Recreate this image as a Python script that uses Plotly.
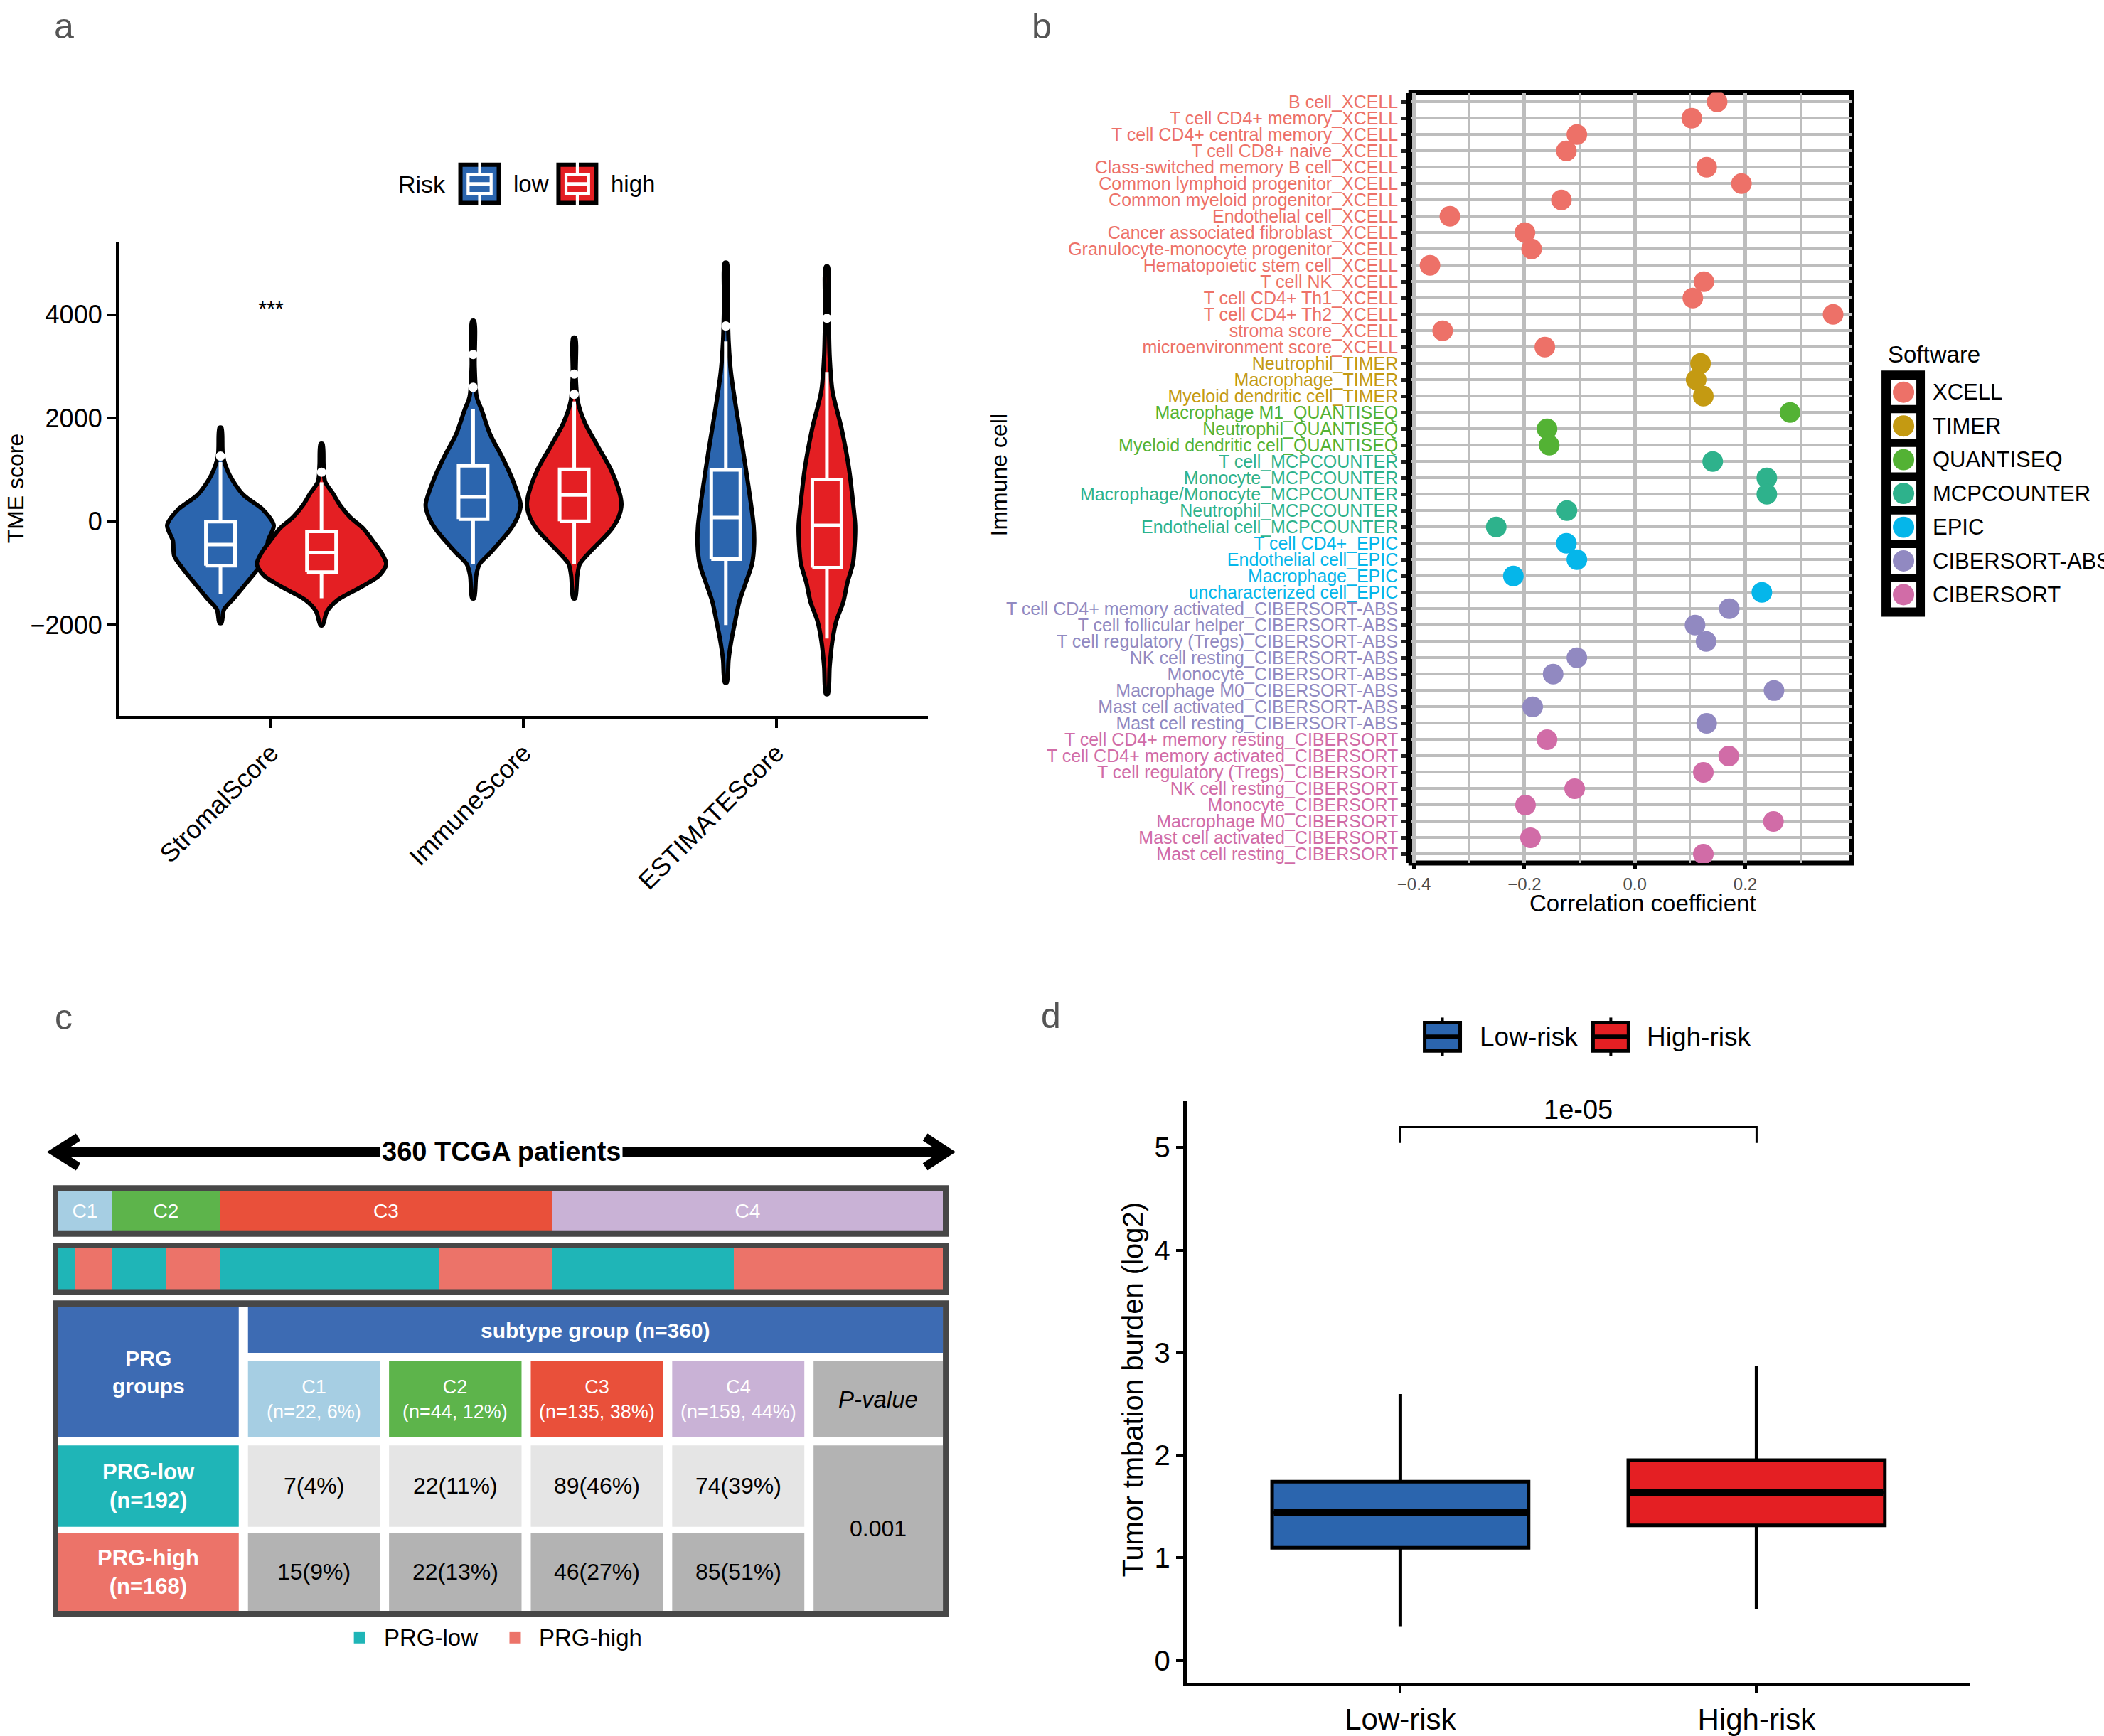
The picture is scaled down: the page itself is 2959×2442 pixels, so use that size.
import plotly.graph_objects as go

# ---------------- page geometry helpers ----------------
W, H = 2959, 2442
# small calibration of the photographed page (observed offset/scale of the render)
CAL_X0, CAL_SX, CAL_SY = 19.0, 0.9943, 0.995


def px(x):
    return ((x - CAL_X0) / CAL_SX) / W


def py(y):
    return 1 - (y / CAL_SY) / H


FONT = "Liberation Sans, Arial, sans-serif"

# ================= DATA =================
# ---- panel a: TME scores (violin + box) ----
TME_CATEGORIES = ["StromalScore", "ImmuneScore", "ESTIMATEScore"]
RISK_GROUPS = ["low", "high"]
RISK_COLORS = ["#2B65AE", "#E41F23"]
# order: Stromal-low, Stromal-high, Immune-low, Immune-high, ESTIMATE-low, ESTIMATE-high
BOX_LOWER = [-1407, -1481, -825, -821, -2001, -2262]
BOX_Q1 = [-853, -975, 49, 8, -726, -889]
BOX_MEDIAN = [-443, -600, 477, 514, 77, -74]
BOX_Q3 = [0, -190, 1079, 1010, 1001, 815]
BOX_UPPER = [1150, 760, 2180, 2323, 3483, 2893]
OUTLIERS = [[1266], [956], [2596, 3230], [2460, 2852], [3781], [3930]]
VIOLIN_Y = [
    [1815, 1266, 890, 519, 227, -74, -370, -662, -889, -1181, -1481, -1700, -1960],
    [1503, 1100, 774, 546, 320, 91, -137, -365, -593, -821, -1044, -1276, -1505, -1732, -2004],
    [3877, 3000, 2414, 2141, 1690, 1227, 774, 323, 91, -142, -361, -593, -825, -1044, -1481],
    [3553, 2800, 2323, 1913, 1457, 1006, 546, 323, 91, -137, -365, -593, -821, -1049, -1481],
    [5002, 4200, 3483, 2893, 2149, 1408, 667, -74, -443, -812, -1181, -1551, -1926, -2297, -2667, -3110],
    [4929, 4000, 3187, 2524, 1779, 1038, 296, -74, -443, -812, -1181, -1551, -1926, -2297, -2800, -3334],
]
VIOLIN_HALFWIDTH = [
    [0.004, 0.010, 0.037, 0.090, 0.169, 0.211, 0.188, 0.183, 0.152, 0.104, 0.053, 0.014, 0.004],
    [0.004, 0.008, 0.014, 0.045, 0.073, 0.112, 0.166, 0.202, 0.236, 0.256, 0.228, 0.152, 0.067, 0.022, 0.004],
    [0.004, 0.006, 0.014, 0.035, 0.067, 0.117, 0.159, 0.188, 0.176, 0.149, 0.112, 0.070, 0.025, 0.012, 0.004],
    [0.004, 0.006, 0.014, 0.042, 0.093, 0.145, 0.180, 0.187, 0.176, 0.149, 0.107, 0.061, 0.022, 0.012, 0.004],
    [0.004, 0.007, 0.011, 0.020, 0.042, 0.067, 0.090, 0.110, 0.112, 0.104, 0.079, 0.053, 0.037, 0.022, 0.011, 0.004],
    [0.004, 0.007, 0.011, 0.022, 0.059, 0.087, 0.105, 0.112, 0.110, 0.103, 0.081, 0.065, 0.037, 0.022, 0.011, 0.004],
]
SIGNIF_LABELS = ["***", "", ""]
SIGNIF_Y = 4082

# ---- panel b: immune cell correlations ----
SOFTWARE = ["XCELL", "TIMER", "QUANTISEQ", "MCPCOUNTER", "EPIC", "CIBERSORT-ABS", "CIBERSORT"]
SOFTWARE_COLORS = ["#ED7168", "#C49A12", "#53B234", "#2EB28C", "#05B6EA", "#9189C1", "#D16CA7"]
CELL_NAMES = [
    "B cell_XCELL", "T cell CD4+ memory_XCELL", "T cell CD4+ central memory_XCELL",
    "T cell CD8+ naive_XCELL", "Class-switched memory B cell_XCELL",
    "Common lymphoid progenitor_XCELL", "Common myeloid progenitor_XCELL",
    "Endothelial cell_XCELL", "Cancer associated fibroblast_XCELL",
    "Granulocyte-monocyte progenitor_XCELL", "Hematopoietic stem cell_XCELL",
    "T cell NK_XCELL", "T cell CD4+ Th1_XCELL", "T cell CD4+ Th2_XCELL",
    "stroma score_XCELL", "microenvironment score_XCELL",
    "Neutrophil_TIMER", "Macrophage_TIMER", "Myeloid dendritic cell_TIMER",
    "Macrophage M1_QUANTISEQ", "Neutrophil_QUANTISEQ", "Myeloid dendritic cell_QUANTISEQ",
    "T cell_MCPCOUNTER", "Monocyte_MCPCOUNTER", "Macrophage/Monocyte_MCPCOUNTER",
    "Neutrophil_MCPCOUNTER", "Endothelial cell_MCPCOUNTER",
    "T cell CD4+_EPIC", "Endothelial cell_EPIC", "Macrophage_EPIC", "uncharacterized cell_EPIC",
    "T cell CD4+ memory activated_CIBERSORT-ABS", "T cell follicular helper_CIBERSORT-ABS",
    "T cell regulatory (Tregs)_CIBERSORT-ABS", "NK cell resting_CIBERSORT-ABS",
    "Monocyte_CIBERSORT-ABS", "Macrophage M0_CIBERSORT-ABS",
    "Mast cell activated_CIBERSORT-ABS", "Mast cell resting_CIBERSORT-ABS",
    "T cell CD4+ memory resting_CIBERSORT", "T cell CD4+ memory activated_CIBERSORT",
    "T cell regulatory (Tregs)_CIBERSORT", "NK cell resting_CIBERSORT",
    "Monocyte_CIBERSORT", "Macrophage M0_CIBERSORT",
    "Mast cell activated_CIBERSORT", "Mast cell resting_CIBERSORT",
]
CELL_SOFTWARE = (["XCELL"] * 16 + ["TIMER"] * 3 + ["QUANTISEQ"] * 3 + ["MCPCOUNTER"] * 5
                 + ["EPIC"] * 4 + ["CIBERSORT-ABS"] * 8 + ["CIBERSORT"] * 8)
CORRELATION = [
    0.149, 0.103, -0.105, -0.124, 0.130, 0.193, -0.133, -0.335, -0.199, -0.187, -0.371,
    0.125, 0.105, 0.359, -0.348, -0.163,
    0.119, 0.111, 0.124,
    0.281, -0.159, -0.155,
    0.141, 0.239, 0.239, -0.123, -0.251,
    -0.124, -0.105, -0.220, 0.230,
    0.171, 0.109, 0.129, -0.105, -0.148, 0.252, -0.185, 0.130,
    -0.159, 0.170, 0.124, -0.109, -0.198, 0.251, -0.189, 0.124,
]

# ---- panel c: subtype vs PRG groups ----
CLUSTERS = ["C1", "C2", "C3", "C4"]
CLUSTER_COLORS = ["#A6CEE3", "#5DB44B", "#E9503A", "#C9B2D6"]
PRG_GROUPS = ["PRG-low", "PRG-high"]
PRG_COLORS = ["#1FB5B7", "#EC7369"]
PRG_LOW_COUNTS = [7, 22, 89, 74]
PRG_HIGH_COUNTS = [15, 22, 46, 85]
P_VALUE = "0.001"

# ---- panel d: tumor mutation burden ----
TMB_GROUPS = ["Low-risk", "High-risk"]
TMB_COLORS = ["#2B65AE", "#E41F23"]
TMB_LOWER = [0.334, 0.503]
TMB_Q1 = [1.098, 1.317]
TMB_MEDIAN = [1.441, 1.638]
TMB_Q3 = [1.743, 1.953]
TMB_UPPER = [2.598, 2.873]
TMB_P = "1e-05"
TMB_BRACKET_Y = [5.046, 5.20]

# ================= FIGURE =================
fig = go.Figure()
shapes = []
annotations = []


def rect(x0, y0, x1, y1, fill, lc=None, lw=0, layer="above"):
    shapes.append(dict(type="rect", xref="paper", yref="paper",
                       x0=px(x0), x1=px(x1), y0=py(y1), y1=py(y0),
                       fillcolor=fill, line=dict(width=lw, color=lc or fill), layer=layer))


def pline(x0, y0, x1, y1, color, width, layer="above"):
    shapes.append(dict(type="line", xref="paper", yref="paper",
                       x0=px(x0), x1=px(x1), y0=py(y0), y1=py(y1),
                       line=dict(color=color, width=width), layer=layer))


def text(x, y, s, size, color="black", xanchor="center", yanchor="middle", bold=False,
         italic=False, angle=0, bg=None):
    if bold:
        s = "<b>" + s + "</b>"
    if italic:
        s = "<i>" + s + "</i>"
    a = dict(x=px(x), y=py(y), xref="paper", yref="paper", text=s, showarrow=False,
             xanchor=xanchor, yanchor=yanchor, textangle=angle,
             font=dict(family=FONT, size=size, color=color))
    if bg:
        a["bgcolor"] = bg
        a["borderpad"] = 2
    annotations.append(a)


# ---------- panel a ----------
DODGE = 0.2
BOX_HALF = 0.0576
centers = []
for ci, cat in enumerate(TME_CATEGORIES):
    for gi, grp in enumerate(RISK_GROUPS):
        centers.append((ci + 1) + (-DODGE if gi == 0 else DODGE))

for k, c in enumerate(centers):
    gi = k % 2
    ys = VIOLIN_Y[k]
    hw = VIOLIN_HALFWIDTH[k]
    xs = [c + h for h in hw] + [c - h for h in reversed(hw)] + [c + hw[0]]
    yy = list(ys) + list(reversed(ys)) + [ys[0]]
    fig.add_trace(go.Scatter(x=xs, y=yy, mode="lines", fill="toself",
                             fillcolor=RISK_COLORS[gi],
                             line=dict(color="black", width=6, shape="spline", smoothing=0.8),
                             xaxis="x", yaxis="y", hoverinfo="skip", showlegend=False))

for k, c in enumerate(centers):
    l, r = c - BOX_HALF, c + BOX_HALF
    bx = [l, r, r, l, l, None, l, r, None, c, c, None, c, c]
    by = [BOX_Q1[k], BOX_Q1[k], BOX_Q3[k], BOX_Q3[k], BOX_Q1[k], None,
          BOX_MEDIAN[k], BOX_MEDIAN[k], None, BOX_Q3[k], BOX_UPPER[k], None,
          BOX_Q1[k], BOX_LOWER[k]]
    fig.add_trace(go.Scatter(x=bx, y=by, mode="lines", line=dict(color="white", width=5),
                             xaxis="x", yaxis="y", hoverinfo="skip", showlegend=False))
    fig.add_trace(go.Scatter(x=[c] * len(OUTLIERS[k]), y=OUTLIERS[k], mode="markers",
                             marker=dict(color="white", size=13),
                             xaxis="x", yaxis="y", showlegend=False, hoverinfo="skip"))
fig.add_trace(go.Scatter(x=[i + 1 for i in range(len(TME_CATEGORIES))],
                         y=[SIGNIF_Y] * len(TME_CATEGORIES), text=SIGNIF_LABELS,
                         mode="text", textfont=dict(family=FONT, size=30, color="black"),
                         xaxis="x", yaxis="y", showlegend=False, hoverinfo="skip"))

# ---------- panel b ----------
for si, sw in enumerate(SOFTWARE):
    xs = [v for v, s in zip(CORRELATION, CELL_SOFTWARE) if s == sw]
    ys = [n for n, s in zip(CELL_NAMES, CELL_SOFTWARE) if s == sw]
    fig.add_trace(go.Scatter(x=xs, y=ys, mode="markers",
                             marker=dict(color=SOFTWARE_COLORS[si], size=29),
                             xaxis="x2", yaxis="y2", showlegend=False, name=sw))
sw_color = dict(zip(SOFTWARE, SOFTWARE_COLORS))
colored_ticks = ['<span style="color:%s">%s</span>' % (sw_color[s], n)
                 for n, s in zip(CELL_NAMES, CELL_SOFTWARE)]

# ---------- panel c: strips ----------
for i, cl in enumerate(CLUSTERS):
    n = PRG_LOW_COUNTS[i] + PRG_HIGH_COUNTS[i]
    fig.add_trace(go.Bar(x=[n], y=[0], orientation="h",
                         marker=dict(color=CLUSTER_COLORS[i], line=dict(width=0)),
                         text=[cl], textposition="inside", insidetextanchor="middle", textangle=0,
                         textfont=dict(family=FONT, size=28, color="white"),
                         width=1, xaxis="x4", yaxis="y4", showlegend=False, hoverinfo="skip"))
for i, cl in enumerate(CLUSTERS):
    for gi, counts in enumerate([PRG_LOW_COUNTS, PRG_HIGH_COUNTS]):
        fig.add_trace(go.Bar(x=[counts[i]], y=[0], orientation="h",
                             marker=dict(color=PRG_COLORS[gi], line=dict(width=0)),
                             width=1, xaxis="x5", yaxis="y5", showlegend=False, hoverinfo="skip"))

# ---------- panel d ----------
TMB_BOX_WIDTH = 0.72
for i, g in enumerate(TMB_GROUPS):
    fig.add_trace(go.Box(x=[g], q1=[TMB_Q1[i]], median=[TMB_MEDIAN[i]], q3=[TMB_Q3[i]],
                         lowerfence=[TMB_LOWER[i]], upperfence=[TMB_UPPER[i]],
                         orientation="v", whiskerwidth=0, width=TMB_BOX_WIDTH,
                         fillcolor=TMB_COLORS[i],
                         line=dict(color="black", width=5), boxpoints=False,
                         xaxis="x3", yaxis="y3", showlegend=False, hoverinfo="skip"))
    shapes.append(dict(type="line", xref="x3", yref="y3",
                       x0=i - TMB_BOX_WIDTH / 2 + 0.005, x1=i + TMB_BOX_WIDTH / 2 - 0.005,
                       y0=TMB_MEDIAN[i], y1=TMB_MEDIAN[i], line=dict(color="black", width=10)))
shapes.append(dict(type="path", xref="x3", yref="y3",
                   path="M 0,%g L 0,%g L 1,%g L 1,%g" % (TMB_BRACKET_Y[0], TMB_BRACKET_Y[1],
                                                       TMB_BRACKET_Y[1], TMB_BRACKET_Y[0]),
                   line=dict(color="black", width=3)))
annotations.append(dict(x=0.5, y=TMB_BRACKET_Y[1], xref="x3", yref="y3", text=TMB_P,
                        showarrow=False, yanchor="bottom", yshift=2,
                        font=dict(family=FONT, size=38, color="black")))

# ================= layout: axes =================
AX_A_X = [px(168), px(1306)]
AX_A_Y = [py(1011), py(342)]
AX_B_X = [px(1985.7), px(2606)]
AX_B_Y = [py(1219.5), py(130.2)]
AX_D_X = [px(1670), px(2773)]
AX_D_Y = [py(2379), py(1556)]
STRIP_X = [px(81.5), px(1327)]
N_TOTAL = sum(PRG_LOW_COUNTS) + sum(PRG_HIGH_COUNTS)

layout = dict(
    width=W, height=H, margin=dict(l=0, r=0, t=0, b=0),
    paper_bgcolor="white", plot_bgcolor="white", showlegend=False,
    barmode="stack", bargap=0,
    font=dict(family=FONT, color="black"),
    xaxis=dict(domain=AX_A_X, anchor="y", range=[0.4, 3.6], tickmode="array",
               tickvals=[1, 2, 3], ticktext=TME_CATEGORIES, tickangle=-45,
               showline=True, linecolor="black", linewidth=5, ticks="outside", ticklen=12,
               tickwidth=4, tickcolor="black", showgrid=False, zeroline=False,
               tickfont=dict(family=FONT, size=36, color="black")),
    yaxis=dict(domain=AX_A_Y, anchor="x", range=[-3751, 5394], tickmode="array",
               tickvals=[-2000, 0, 2000, 4000],
               showline=True, linecolor="black", linewidth=5, ticks="outside", ticklen=12,
               tickwidth=4, tickcolor="black", showgrid=False, zeroline=False,
               tickfont=dict(family=FONT, size=36, color="black")),
    xaxis2=dict(domain=AX_B_X, anchor="y2", range=[-0.4055, 0.3926], tickmode="array",
                tickvals=[-0.4, -0.2, 0.0, 0.2], tickformat=".1f",
                showline=False, ticks="outside", ticklen=8, tickwidth=5, tickcolor="black",
                showgrid=True, gridcolor="#BDBDBD", gridwidth=4.5, zeroline=False,
                minor=dict(dtick=0.1, tick0=0, showgrid=True, gridcolor="#BDBDBD", gridwidth=3),
                tickfont=dict(family=FONT, size=24, color="#4D4D4D")),
    yaxis2=dict(domain=AX_B_Y, anchor="x2", type="category", categoryorder="array",
                categoryarray=CELL_NAMES, range=[len(CELL_NAMES) - 1 + 0.55, -0.55],
                tickmode="array", tickvals=CELL_NAMES, ticktext=colored_ticks,
                showline=True, linecolor="black", linewidth=6, ticks="outside", ticklen=7,
                tickwidth=5, tickcolor="#222222", showgrid=True, gridcolor="#BDBDBD",
                gridwidth=4, zeroline=False,
                tickfont=dict(family=FONT, size=25, color="black")),
    xaxis3=dict(domain=AX_D_X, anchor="y3", type="category", categoryorder="array",
                categoryarray=TMB_GROUPS, range=[-0.6, 1.6],
                showline=True, linecolor="black", linewidth=5, ticks="outside", ticklen=10,
                tickwidth=4, tickcolor="black", showgrid=False, zeroline=False,
                tickfont=dict(family=FONT, size=42, color="black")),
    yaxis3=dict(domain=AX_D_Y, anchor="x3", range=[-0.22, 5.455], tickmode="array",
                tickvals=[0, 1, 2, 3, 4, 5],
                showline=True, linecolor="black", linewidth=5, ticks="outside", ticklen=10,
                tickwidth=4, tickcolor="black", showgrid=False, zeroline=False,
                tickfont=dict(family=FONT, size=40, color="black")),
    xaxis4=dict(domain=STRIP_X, anchor="y4", range=[0, N_TOTAL], visible=False, fixedrange=True),
    yaxis4=dict(domain=[py(1739), py(1683)], anchor="x4", range=[-0.5, 0.5], visible=False),
    xaxis5=dict(domain=STRIP_X, anchor="y5", range=[0, N_TOTAL], visible=False, fixedrange=True),
    yaxis5=dict(domain=[py(1822), py(1764)], anchor="x5", range=[-0.5, 0.5], visible=False),
)

# panel b border drawn beneath the grid
shapes.append(dict(type="rect", xref="x2 domain", yref="y2 domain", x0=0, x1=1, y0=0, y1=1,
                   line=dict(color="black", width=7), layer="below"))

# ---------- axis titles ----------
text(22, 689, "TME score", 32, angle=-90)
text(1406, 670, "Immune cell", 32, angle=-90)
text(2312, 1276, "Correlation coefficient", 33)
text(1594, 1964, "Tumor tmbation burden (log2)", 40, angle=-90)

# ---------- panel labels ----------
for lab, (lx, ly) in zip(["a", "b", "c", "d"], [(90, 36), (1466, 36), (90, 1438), (1479, 1436)]):
    text(lx, ly, lab, 50, color="#555555")

# ---------- legend panel a ----------
text(558, 259, "Risk", 34, xanchor="left")


def box_icon(x0, y0, x1, y1, fill, glyph, border_w):
    rect(x0, y0, x1, y1, fill, lc="black", lw=border_w)
    cx = (x0 + x1) / 2
    w = x1 - x0
    h = y1 - y0
    bx0, bx1 = x0 + 0.2 * w, x1 - 0.2 * w
    by0, by1 = y0 + 0.25 * h, y1 - 0.25 * h
    shapes.append(dict(type="rect", xref="paper", yref="paper", x0=px(bx0), x1=px(bx1),
                       y0=py(by1), y1=py(by0), line=dict(color=glyph, width=border_w * 0.7)))
    pline(bx0, (y0 + y1) / 2, bx1, (y0 + y1) / 2, glyph, border_w * 0.8)
    pline(cx, y0 - 4, cx, by0, glyph, border_w * 0.7)
    pline(cx, by1, cx, y1 + 4, glyph, border_w * 0.7)


box_icon(648, 232, 702, 286, RISK_COLORS[0], "white", 6)
text(721, 259, RISK_GROUPS[0], 33, xanchor="left")
box_icon(786, 232, 839, 286, RISK_COLORS[1], "white", 6)
text(858, 259, RISK_GROUPS[1], 33, xanchor="left")

# ---------- legend panel d ----------
for i, (ix, tx) in enumerate([(2005, 2080), (2242, 2316)]):
    rect(ix, 1445, ix + 50, 1485, TMB_COLORS[i], lc="black", lw=5)
    pline(ix, 1465, ix + 50, 1465, "black", 6)
    pline(ix + 25, 1438, ix + 25, 1445, "black", 4)
    pline(ix + 25, 1485, ix + 25, 1492, "black", 4)
    text(tx, 1465, TMB_GROUPS[i], 37, xanchor="left")

# ---------- legend panel b ----------
text(2655, 500, "Software", 33, xanchor="left")
rect(2649, 524, 2708, 870, "black", lc="black", lw=2)
for i, sw in enumerate(SOFTWARE):
    cy = 553.7 + i * 47.7
    rect(2661, cy - 18, 2697, cy + 18, "white")
    shapes.append(dict(type="circle", xref="paper", yref="paper",
                       x0=px(2679 - 15), x1=px(2679 + 15), y0=py(cy + 15), y1=py(cy - 15),
                       fillcolor=SOFTWARE_COLORS[i], line=dict(width=0)))
    text(2718, cy, sw, 31, xanchor="left")

# ---------- panel c: arrow, frames, table ----------
pline(80, 1628, 1330, 1628, "black", 14)
shapes.append(dict(type="path", xref="paper", yref="paper",
                   path="M %f,%f L %f,%f L %f,%f" % (px(110), py(1607), px(77), py(1628), px(110), py(1649)),
                   line=dict(color="black", width=12)))
shapes.append(dict(type="path", xref="paper", yref="paper",
                   path="M %f,%f L %f,%f L %f,%f" % (px(1302), py(1607), px(1334), py(1628), px(1302), py(1649)),
                   line=dict(color="black", width=12)))
text(705, 1628, "%d TCGA patients" % N_TOTAL, 38, bold=True, bg="white")

FRAME = "#474747"
rect(75, 1675, 1335, 1748, FRAME, layer="below")
rect(75, 1757, 1335, 1830, FRAME, layer="below")
rect(75, 1838, 1335, 2285, FRAME, layer="below")
rect(81.5, 1847, 1327, 2277, "white", layer="below")

HEAD_BLUE = "#3D6BB3"
LIGHT = "#E5E5E5"
DARK = "#B3B3B3"
COL_X = [(349, 535), (547.5, 734), (747, 933), (946, 1132)]
PV_X = (1145, 1327)
ROW_Y = [(2043, 2158), (2167, 2277)]
n_low, n_high = sum(PRG_LOW_COUNTS), sum(PRG_HIGH_COUNTS)

rect(81.5, 1847, 336, 2031, HEAD_BLUE)
text(209, 1939, "PRG<br>groups", 30, color="white", bold=True)
rect(349, 1847, 1327, 1912, HEAD_BLUE)
text(838, 1880, "subtype group (n=%d)" % N_TOTAL, 30, color="white", bold=True)
for i, cl in enumerate(CLUSTERS):
    x0, x1 = COL_X[i]
    n = PRG_LOW_COUNTS[i] + PRG_HIGH_COUNTS[i]
    rect(x0, 1924, x1, 2031, CLUSTER_COLORS[i])
    text((x0 + x1) / 2, 1978, "%s<br>(n=%d, %d%%)" % (cl, n, int(100 * n / N_TOTAL + 0.5)), 27,
         color="white")
    for r, (counts, tot) in enumerate([(PRG_LOW_COUNTS, n_low), (PRG_HIGH_COUNTS, n_high)]):
        y0, y1 = ROW_Y[r]
        rect(x0, y0, x1, y1, LIGHT if r == 0 else DARK)
        text((x0 + x1) / 2, (y0 + y1) / 2, "%d(%d%%)" % (counts[i], int(100 * counts[i] / tot + 0.5)), 32)
rect(PV_X[0], 1924, PV_X[1], 2031, DARK)
text((PV_X[0] + PV_X[1]) / 2, 1978, "P-value", 33, italic=True)
rect(PV_X[0], 2043, PV_X[1], 2277, DARK)
text((PV_X[0] + PV_X[1]) / 2, 2160, P_VALUE, 32)
for r, (g, n) in enumerate(zip(PRG_GROUPS, [n_low, n_high])):
    y0, y1 = ROW_Y[r]
    rect(81.5, y0, 336, y1, PRG_COLORS[r])
    text(209, (y0 + y1) / 2, "%s<br>(n=%d)" % (g, n), 31, color="white", bold=True)

# legend panel c
for i, (sx, tx) in enumerate([(506, 538), (725, 757)]):
    rect(sx - 8, 2307, sx + 8, 2323, PRG_COLORS[i])
    text(tx, 2315, PRG_GROUPS[i], 33, xanchor="left")

layout["shapes"] = shapes
layout["annotations"] = annotations
fig.update_layout(**layout)
fig.write_html("out.html", config={"displayModeBar": False},
               post_script="document.body.style.margin='0px';document.body.style.overflow='hidden';")
